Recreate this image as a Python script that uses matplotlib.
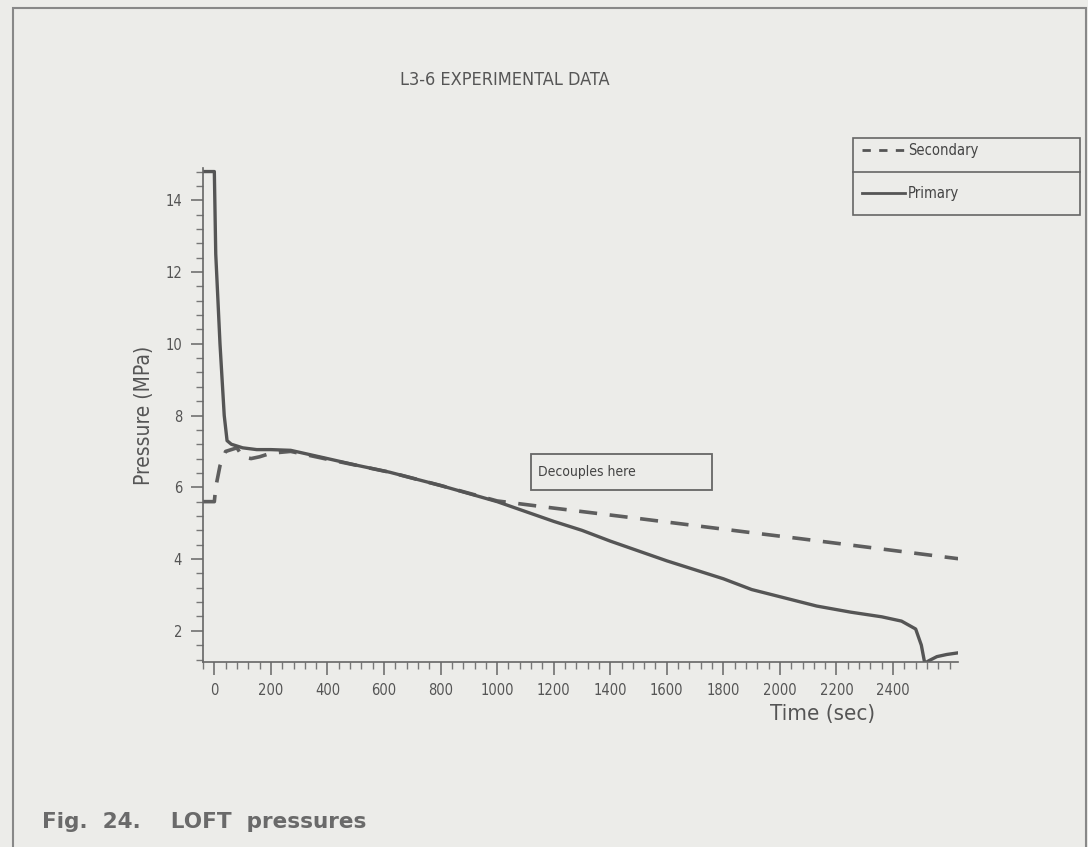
import matplotlib.pyplot as plt
from matplotlib.lines import Line2D
from matplotlib.patches import Rectangle
from matplotlib.ticker import MultipleLocator, FixedLocator

# LOFT L3-6 pressures
primary_t = [-40, 0, 5, 20, 35, 45, 60, 80, 100, 150, 200, 270, 400, 500, 620,
             800, 1000, 1200, 1300, 1400, 1600, 1800, 1900, 2000, 2130, 2250,
             2360, 2430, 2480, 2500, 2512, 2530, 2555, 2590, 2625]
primary_p = [14.8, 14.8, 12.5, 10.0, 8.0, 7.3, 7.2, 7.15, 7.1, 7.05, 7.05, 7.03,
             6.8, 6.62, 6.42, 6.05, 5.6, 5.05, 4.8, 4.5, 3.95, 3.45, 3.15, 2.95,
             2.69, 2.52, 2.39, 2.27, 2.05, 1.6, 1.1, 1.18, 1.28, 1.34, 1.38]

secondary_t = [-40, 0, 5, 20, 40, 60, 80, 100, 130, 160, 200, 270, 400, 620,
               800, 1000, 1200, 1500, 1894, 2070, 2300, 2630]
secondary_p = [5.6, 5.6, 6.0, 6.6, 7.0, 7.05, 7.1, 6.85, 6.8, 6.85, 6.95, 7.0,
               6.78, 6.42, 6.05, 5.62, 5.42, 5.13, 4.74, 4.57, 4.34, 4.01]

series_names = ['Secondary', 'Primary']
x_ticks = list(range(0, 2401, 200))
y_ticks = [2, 4, 6, 8, 10, 12, 14]

note_text = 'Decouples here'
note_box = (1118, 5.92, 642, 1.0)  # t0, p0, width, height

bg = '#ecece9'
ink = '#555555'
narrow = dict(family='DejaVu Sans', stretch='condensed')

fig = plt.figure(figsize=(10.88, 8.47), dpi=100, facecolor=bg)
ax = fig.add_axes([0.1866, 0.2184, 0.694, 0.5833], facecolor=bg)

ax.plot(secondary_t, secondary_p, color='#5e5e5e', lw=2.6, ls=(0, (5, 3.5)))
ax.plot(primary_t, primary_p, color='#555555', lw=2.4)

ax.set_xlim(-40, 2630)
ax.set_ylim(1.13, 14.9)

for s in ['top', 'right']:
    ax.spines[s].set_visible(False)
for s in ['left', 'bottom']:
    ax.spines[s].set_color('#666666')
    ax.spines[s].set_linewidth(1.2)

ax.xaxis.set_major_locator(FixedLocator(x_ticks))
ax.xaxis.set_minor_locator(MultipleLocator(40))
ax.yaxis.set_major_locator(FixedLocator(y_ticks))
ax.yaxis.set_minor_locator(MultipleLocator(0.4))
ax.tick_params(which='major', length=9, width=1.1, color='#666666',
               labelcolor=ink, labelsize=10.5, pad=6)
ax.tick_params(which='minor', length=5, width=1.0, color='#777777')
for lab in ax.get_xticklabels() + ax.get_yticklabels():
    lab.set_family('DejaVu Sans')
    lab.set_stretch('condensed')

ax.set_ylabel('Pressure (MPa)', fontsize=15, color=ink, labelpad=8, **narrow)
ax.set_xlabel('Time (sec)', fontsize=16, color=ink, labelpad=4, **narrow)
ax.xaxis.set_label_coords(0.82, -0.085)

# note box
t0, p0, w, h = note_box
ax.add_patch(Rectangle((t0, p0), w, h, fill=False, ec='#666666', lw=1.3))
ax.text(t0 + 25, p0 + h / 2, note_text, fontsize=10, color='#444444',
        va='center', ha='left', **narrow)

# title
fig.text(0.464, 0.906, 'L3-6 EXPERIMENTAL DATA', fontsize=13, color=ink,
         ha='center', va='center', **narrow)

# legend drawn as a two-row table
W, H = 1088.0, 847.0
lx0, lx1, ly0, ly1, ymid = 853, 1080, 138, 215, 172
fig.add_artist(Rectangle((lx0 / W, 1 - ly1 / H), (lx1 - lx0) / W, (ly1 - ly0) / H,
                         transform=fig.transFigure, fill=False, ec='#666666', lw=1.2))
fig.add_artist(Line2D([lx0 / W, lx1 / W], [1 - ymid / H, 1 - ymid / H],
                      transform=fig.transFigure, color='#666666', lw=1.2))
rows = [(150, (0, (3, 3))), (193, '-')]
for (yc, style), name in zip(rows, series_names):
    fig.add_artist(Line2D([862 / W, 905 / W], [1 - yc / H, 1 - yc / H],
                          transform=fig.transFigure, color='#555555', lw=2, ls=style))
    fig.text(908 / W, 1 - yc / H, name, fontsize=10.5, color='#444444',
             va='center', ha='left', **narrow)

# page frame and caption
fig.add_artist(Rectangle((13 / W, -0.01), (1086 - 13) / W, 1 - 8 / H + 0.01,
                         transform=fig.transFigure, fill=False, ec='#888888', lw=1.5))
fig.text(42 / W, 1 - 822 / H, 'Fig.  24.    LOFT  pressures', fontsize=15.5,
         color='#6a6a6a', family='DejaVu Sans', weight='bold',
         va='center', ha='left')

plt.savefig('out.png', dpi=100, facecolor=bg)
